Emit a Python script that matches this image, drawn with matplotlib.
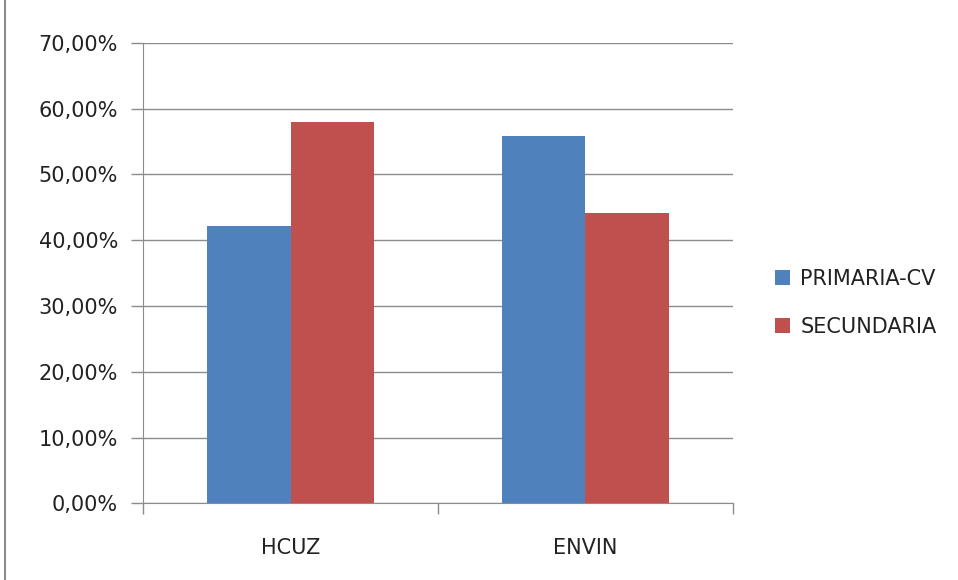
import matplotlib.pyplot as plt
import numpy as np
from matplotlib.ticker import FuncFormatter
from matplotlib.lines import Line2D

categories = ["HCUZ", "ENVIN"]
series_names = ["PRIMARIA-CV", "SECUNDARIA"]
primaria = [42.1, 55.8]
secundaria = [57.9, 44.2]
colors = ["#4F81BD", "#C0504D"]

plt.rcParams['font.family'] = ['DejaVu Sans']

fig = plt.figure(figsize=(9.58, 5.8), dpi=100)
ax = fig.add_axes([0.1493, 0.1319, 0.6158, 0.7945])

x = np.arange(len(categories))
w = 0.283
ax.bar(x - w / 2, primaria, w, color=colors[0], label=series_names[0], zorder=3)
ax.bar(x + w / 2, secundaria, w, color=colors[1], label=series_names[1], zorder=3)

ax.set_xlim(-0.5, len(categories) - 0.5)
ax.set_ylim(0, 70)
ax.set_yticks(np.arange(0, 71, 10))
ax.yaxis.set_major_formatter(FuncFormatter(lambda v, p: f"{v:.2f}".replace(".", ",") + "%"))
ax.grid(axis="y", color="#8c8c8c", lw=1, zorder=0)

# category labels centred, tick marks on the category boundaries
ax.set_xticks(x)
ax.set_xticklabels(categories)
ax.set_xticks(np.arange(-0.5, len(categories), 1), minor=True)
ax.tick_params(axis="x", which="major", length=0, pad=25, labelsize=15, colors="#222222")
ax.tick_params(axis="x", which="minor", length=8, color="#8c8c8c", width=1)
ax.tick_params(axis="y", length=9, color="#8c8c8c", width=1, labelsize=15,
               labelcolor="#222222", pad=9)

for side in ["top", "right"]:
    ax.spines[side].set_visible(False)
for side in ["left", "bottom"]:
    ax.spines[side].set_color("#8c8c8c")

leg = ax.legend(loc="center left", bbox_to_anchor=(1.04, 0.436), frameon=False,
                fontsize=15, handlelength=0.7, handleheight=0.7, handletextpad=0.5,
                labelspacing=1.35)
for t in leg.get_texts():
    t.set_color("#222222")

# outer chart frame, left edge only shows
fig.add_artist(Line2D([0.0055, 0.0055], [0, 1], color="#8c8c8c", lw=1.5,
                      transform=fig.transFigure))

fig.savefig("out.png", dpi=100)
